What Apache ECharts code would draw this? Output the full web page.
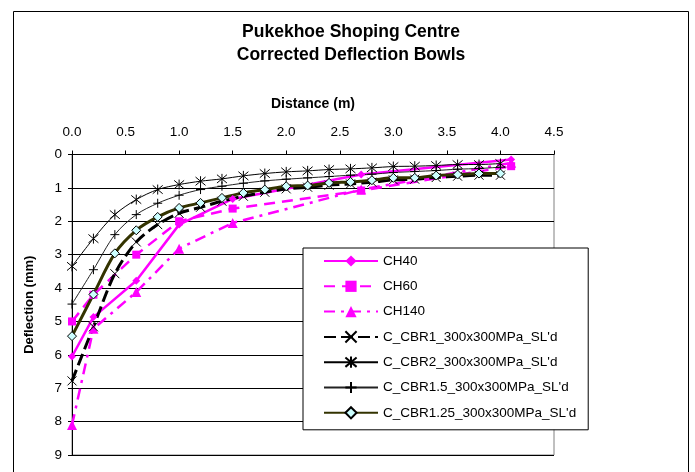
<!DOCTYPE html>
<html><head><meta charset="utf-8">
<script src="https://cdn.jsdelivr.net/npm/echarts@6/dist/echarts.min.js"></script>
<style>html,body{margin:0;padding:0;background:#fff}#c{width:695px;height:472px}</style>
</head><body><div id="c"></div>
<script>
var xTicks = [0.0, 0.5, 1.0, 1.5, 2.0, 2.5, 3.0, 3.5, 4.0, 4.5];
var chDist = [0, 0.2, 0.6, 1.0, 1.5, 2.7, 4.1];
var ch40  = [6.05, 4.87, 3.78, 2.1, 1.33, 0.6, 0.15];
var ch60  = [5.0, 4.2, 3.0, 2.0, 1.62, 1.08, 0.35];
var ch140 = [8.1, 5.22, 4.12, 2.82, 2.05, 1.05, 0.25];
var cbrDist = [0, 0.2, 0.4, 0.6, 0.8, 1.0, 1.2, 1.4, 1.6, 1.8, 2.0, 2.2, 2.4, 2.6, 2.8, 3.0, 3.2, 3.4, 3.6, 3.8, 4.0];
var cbr1   = [6.78, 5.16, 3.57, 2.62, 2.1, 1.76, 1.58, 1.4, 1.25, 1.13, 1.03, 0.98, 0.92, 0.88, 0.83, 0.76, 0.74, 0.69, 0.65, 0.62, 0.62];
var cbr2   = [3.35, 2.52, 1.8, 1.35, 1.05, 0.9, 0.8, 0.73, 0.64, 0.57, 0.52, 0.49, 0.45, 0.43, 0.4, 0.36, 0.35, 0.33, 0.3, 0.3, 0.27];
var cbr15  = [4.48, 3.45, 2.4, 1.8, 1.46, 1.22, 1.05, 0.95, 0.86, 0.79, 0.74, 0.7, 0.66, 0.62, 0.59, 0.54, 0.51, 0.48, 0.44, 0.42, 0.38];
var cbr125 = [5.44, 4.19, 2.96, 2.27, 1.87, 1.6, 1.45, 1.3, 1.15, 1.05, 0.95, 0.93, 0.85, 0.82, 0.77, 0.7, 0.7, 0.63, 0.6, 0.57, 0.57];
var names = ['CH40', 'CH60', 'CH140', "C_CBR1_300x300MPa_SL'd", "C_CBR2_300x300MPa_SL'd", "C_CBR1.5_300x300MPa_SL'd", "C_CBR1.25_300x300MPa_SL'd"];

function pairs(xs, ys) { return xs.map(function (x, i) { return [x, ys[i]]; }); }
var FONT = "'Liberation Sans', Arial, sans-serif";
var MAG = '#FF00FF';
var symX = 'path://M0,0L10,10M10,0L0,10';
var symAst = 'path://M0,0L10,10M10,0L0,10M5,-1L5,11';
var symPlus = 'path://M5,0L5,10M0,5L10,5';

var chart = echarts.init(document.getElementById('c'), null, {renderer: 'canvas'});
chart.setOption({
  animation: false,
  backgroundColor: '#fff',
  textStyle: {fontFamily: FONT},
  graphic: [
    {type: 'rect', shape: {x: 13.5, y: 11.5, width: 675, height: 480}, style: {fill: 'none', stroke: '#000', lineWidth: 1}, z: -10},
    {type: 'text', x: 351, y: 20.5, style: {text: 'Pukekhoe Shoping Centre\nCorrected Deflection Bowls', font: 'bold 17.5px ' + FONT, fill: '#000', textAlign: 'center', lineHeight: 23}}
  ],
  grid: {left: 72, top: 154.5, right: 141, bottom: 17, show: true, borderColor: '#808080', borderWidth: 1, backgroundColor: '#fff'},
  legend: {
    orient: 'vertical', left: 303, top: 248,
    padding: [6, 12, 10, 20],
    itemWidth: 54, itemHeight: 14, itemGap: 11.3,
    backgroundColor: '#fff', borderColor: '#000', borderWidth: 1,
    textStyle: {fontSize: 13.5, color: '#000', fontFamily: FONT},
    data: names
  },
  xAxis: {
    type: 'value', position: 'top', min: 0, max: 4.5, interval: 0.5,
    name: 'Distance (m)', nameLocation: 'middle', nameGap: 43,
    nameTextStyle: {fontSize: 14, fontWeight: 'bold', color: '#000'},
    axisLine: {show: true, lineStyle: {color: '#000', width: 1}},
    axisTick: {show: true, inside: false, length: 4, lineStyle: {color: '#000'}},
    axisLabel: {fontSize: 13.5, color: '#000', margin: 15, formatter: function (v) { return v.toFixed(1); }},
    splitLine: {show: false}
  },
  yAxis: {
    type: 'value', inverse: true, min: 0, max: 9, interval: 1,
    name: 'Deflection (mm)', nameLocation: 'middle', nameGap: 36, nameRotate: 90,
    nameTextStyle: {fontSize: 13, fontWeight: 'bold', color: '#000'},
    axisLine: {show: true, lineStyle: {color: '#000', width: 1}},
    axisTick: {show: true, inside: false, length: 4, lineStyle: {color: '#000'}},
    axisLabel: {fontSize: 13.5, color: '#000', margin: 10},
    splitLine: {show: true, lineStyle: {color: '#000', width: 1}}
  },
  series: [
    {name: names[0], type: 'line', data: pairs(chDist, ch40), symbol: 'diamond', symbolSize: 8,
     lineStyle: {color: MAG, width: 2.5}, itemStyle: {color: MAG}},
    {name: names[1], type: 'line', data: pairs(chDist, ch60), symbol: 'rect', symbolSize: 8,
     lineStyle: {color: MAG, width: 2.5, type: [11, 7]}, itemStyle: {color: MAG}},
    {name: names[2], type: 'line', data: pairs(chDist, ch140), symbol: 'triangle', symbolSize: 10,
     lineStyle: {color: MAG, width: 2.5, type: [11, 6, 3, 6]}, itemStyle: {color: MAG}},
    {name: names[3], type: 'line', data: pairs(cbrDist, cbr1), symbol: symX, symbolSize: 9, smooth: 0.3,
     lineStyle: {color: '#000', width: 3, type: [12, 5]}, itemStyle: {color: 'rgba(0,0,0,0)', borderColor: '#000', borderWidth: 1}},
    {name: names[4], type: 'line', data: pairs(cbrDist, cbr2), symbol: symAst, symbolSize: 10, smooth: 0.3,
     lineStyle: {color: '#000', width: 1}, itemStyle: {color: 'rgba(0,0,0,0)', borderColor: '#000', borderWidth: 1}},
    {name: names[5], type: 'line', data: pairs(cbrDist, cbr15), symbol: symPlus, symbolSize: 9, smooth: 0.3,
     lineStyle: {color: '#222', width: 1}, itemStyle: {color: 'rgba(0,0,0,0)', borderColor: '#000', borderWidth: 1}},
    {name: names[6], type: 'line', data: pairs(cbrDist, cbr125), symbol: 'diamond', symbolSize: 9, smooth: 0.3,
     lineStyle: {color: '#333300', width: 3}, itemStyle: {color: '#CCFFFF', borderColor: '#000', borderWidth: 1}}
  ]
});
</script>
</body></html>
